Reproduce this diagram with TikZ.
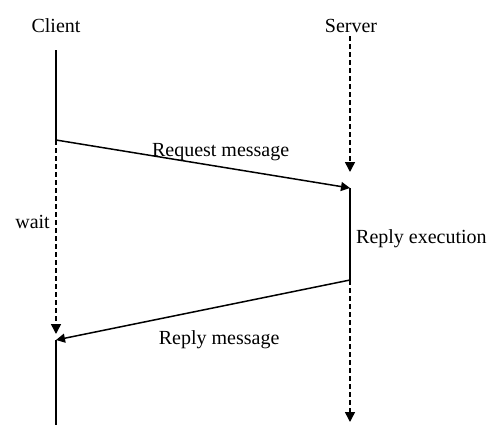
\documentclass[tikz,border=0pt]{standalone}
\usepackage{fontspec}
\setmainfont{Liberation Serif}
\usepackage{tikz}
\usetikzlibrary{arrows.meta}
\tikzset{
  lbl/.style={inner sep=1pt, font=\fontsize{20}{24}\selectfont},
  life/.style={line width=1.5pt},
  waitline/.style={line width=1.5pt, dash pattern=on 5pt off 3pt, -{Triangle[width=10pt,length=10pt]}},
  msg/.style={line width=1.5pt, -{Triangle[width=9pt,length=9pt]}}
}

\begin{document}
\begin{tikzpicture}[x=1pt,y=-1pt]
\useasboundingbox (0,0) rectangle (488,424);
\node[lbl] (client) at (56,26) {Client};
\node[lbl] (server) at (351,26) {Server};
\coordinate (c1) at (56,50);
\coordinate (c2) at (56,140);
\coordinate (c3) at (56,334);
\coordinate (c4) at (56,340);
\coordinate (c5) at (56,430);
\coordinate (s0) at (350,36);
\coordinate (s1) at (350,172);
\coordinate (s2) at (350,188);
\coordinate (s3) at (350,280);
\coordinate (s4) at (350,422);
\draw[life] (c1) -- (c2);
\draw[waitline] (c2) -- (c3);
\draw[life] (c4) -- (c5);
\draw[waitline] (s0) -- (s1);
\draw[life] (s2) -- (s3);
\draw[waitline] (s3) -- (s4);
\draw[msg] (c2) -- (s2) node[lbl, pos=0.56, above=4pt] (req) {Request message};
\draw[msg] (s3) -- (c4) node[lbl, pos=0.445, below=22pt] (rep) {Reply message};
\node[lbl, anchor=east] (wait) at (51,222) {wait};
\node[lbl, anchor=west] (exec) at (355,239) {Reply execution};
\end{tikzpicture}
\end{document}
